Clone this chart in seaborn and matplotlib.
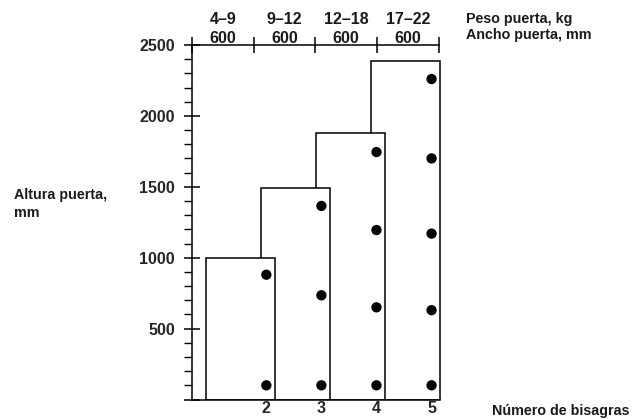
import matplotlib
matplotlib.use('Agg')
import matplotlib.pyplot as plt
import matplotlib.transforms as mtransforms
from matplotlib.ticker import MultipleLocator, FuncFormatter
import pandas as pd
import seaborn as sns

# number of hinges, max door height (mm) and hinge positions (mm from floor)
hinges = [2, 3, 4, 5]
max_height = [1000, 1490, 1880, 2390]
hinge_heights = [
    [100, 880],
    [100, 735, 1365],
    [100, 650, 1195, 1745],
    [100, 630, 1170, 1700, 2260],
]
weight_labels = ['4–9', '9–12', '12–18', '17–22']
width_labels = ['600', '600', '600', '600']

W, H = 638, 419
X_LEFT, X_RIGHT = 0.65, 5.19
COL_STEP = 1.12          # width of one column of the top scale
BOX_OFFSET, BOX_WIDTH = 1.10, 1.26

sns.set_style('ticks')
plt.rcParams['font.family'] = ['Liberation Sans', 'DejaVu Sans']
plt.rcParams['font.weight'] = 'bold'
plt.rcParams['text.color'] = '#1a1a1a'

fig = plt.figure(figsize=(W / 100, H / 100), dpi=100)
ax = fig.add_axes([192 / W, 1 - 399.5 / H, 250 / W, 354.5 / H])

# door boxes, drawn back to front so the smaller door sits on top
lefts = [h - BOX_OFFSET for h in hinges]
ax.bar(lefts[::-1], max_height[::-1], width=BOX_WIDTH, align='edge',
       color='white', edgecolor='black', linewidth=1.1, zorder=2)

dots = pd.DataFrame([(h, y) for h, ys in zip(hinges, hinge_heights) for y in ys],
                    columns=['hinges', 'height'])
sns.scatterplot(data=dots, x='hinges', y='height', color='black', s=55,
                edgecolor='none', legend=False, zorder=5, ax=ax)

ax.set_xlim(X_LEFT, X_RIGHT)
ax.set_ylim(0, 2500)
ax.set_xlabel('')
ax.set_ylabel('')
for side in ['top', 'right']:
    ax.spines[side].set_visible(False)
for side in ['left', 'bottom']:
    ax.spines[side].set_linewidth(1.1)
    ax.spines[side].set_color('black')
ax.spines['bottom'].set_bounds(X_LEFT, hinges[-1] - BOX_OFFSET + BOX_WIDTH)

ax.yaxis.set_major_locator(MultipleLocator(500))
ax.yaxis.set_minor_locator(MultipleLocator(100))
ax.yaxis.set_major_formatter(FuncFormatter(lambda v, p: '' if v == 0 else f'{v:.0f}'))
ax.tick_params(axis='y', which='major', direction='inout', length=11, width=1.1,
               pad=6.7, labelsize=11.5, color='black')
ax.tick_params(axis='y', which='minor', direction='out', length=6, width=1.0,
               color='black')
ax.set_xticks(hinges)
ax.set_xticklabels([str(h) for h in hinges])
ax.tick_params(axis='x', length=0, pad=0.8, labelsize=11.5)

# top scale: door weight / door width per column
separators = [X_LEFT + i * COL_STEP for i in range(len(weight_labels) + 1)]
sec = ax.secondary_xaxis('top')
sec.set_xticks(separators)
sec.set_xticklabels([])
sec.tick_params(direction='inout', length=11, width=1.1, color='black')
sec.spines['top'].set_bounds(separators[0], separators[-1])
sec.spines['top'].set_linewidth(1.1)
sec.spines['top'].set_color('black')

trans = mtransforms.blended_transform_factory(ax.transData, fig.transFigure)
for i, (wl, dl) in enumerate(zip(weight_labels, width_labels)):
    mid = (separators[i] + separators[i + 1]) / 2
    ax.text(mid, 1 - 24 / H, wl, transform=trans, ha='center', va='baseline',
            fontsize=11.5, fontweight='bold')
    ax.text(mid, 1 - 42.7 / H, dl, transform=trans, ha='center', va='baseline',
            fontsize=11.5, fontweight='bold')

fig.text(466 / W, 1 - 22.5 / H, 'Peso puerta, kg', ha='left', va='baseline',
         fontsize=10.3, fontweight='bold')
fig.text(466 / W, 1 - 39 / H, 'Ancho puerta, mm', ha='left', va='baseline',
         fontsize=10.3, fontweight='bold')
fig.text(14 / W, 1 - 199.3 / H, 'Altura puerta,', ha='left', va='baseline',
         fontsize=10.3, fontweight='bold')
fig.text(14 / W, 1 - 217 / H, 'mm', ha='left', va='baseline',
         fontsize=10.3, fontweight='bold')
fig.text(492 / W, 1 - 415 / H, 'Número de bisagras', ha='left', va='baseline',
         fontsize=10.3, fontweight='bold')

fig.savefig('out.png', dpi=100, facecolor='white')
